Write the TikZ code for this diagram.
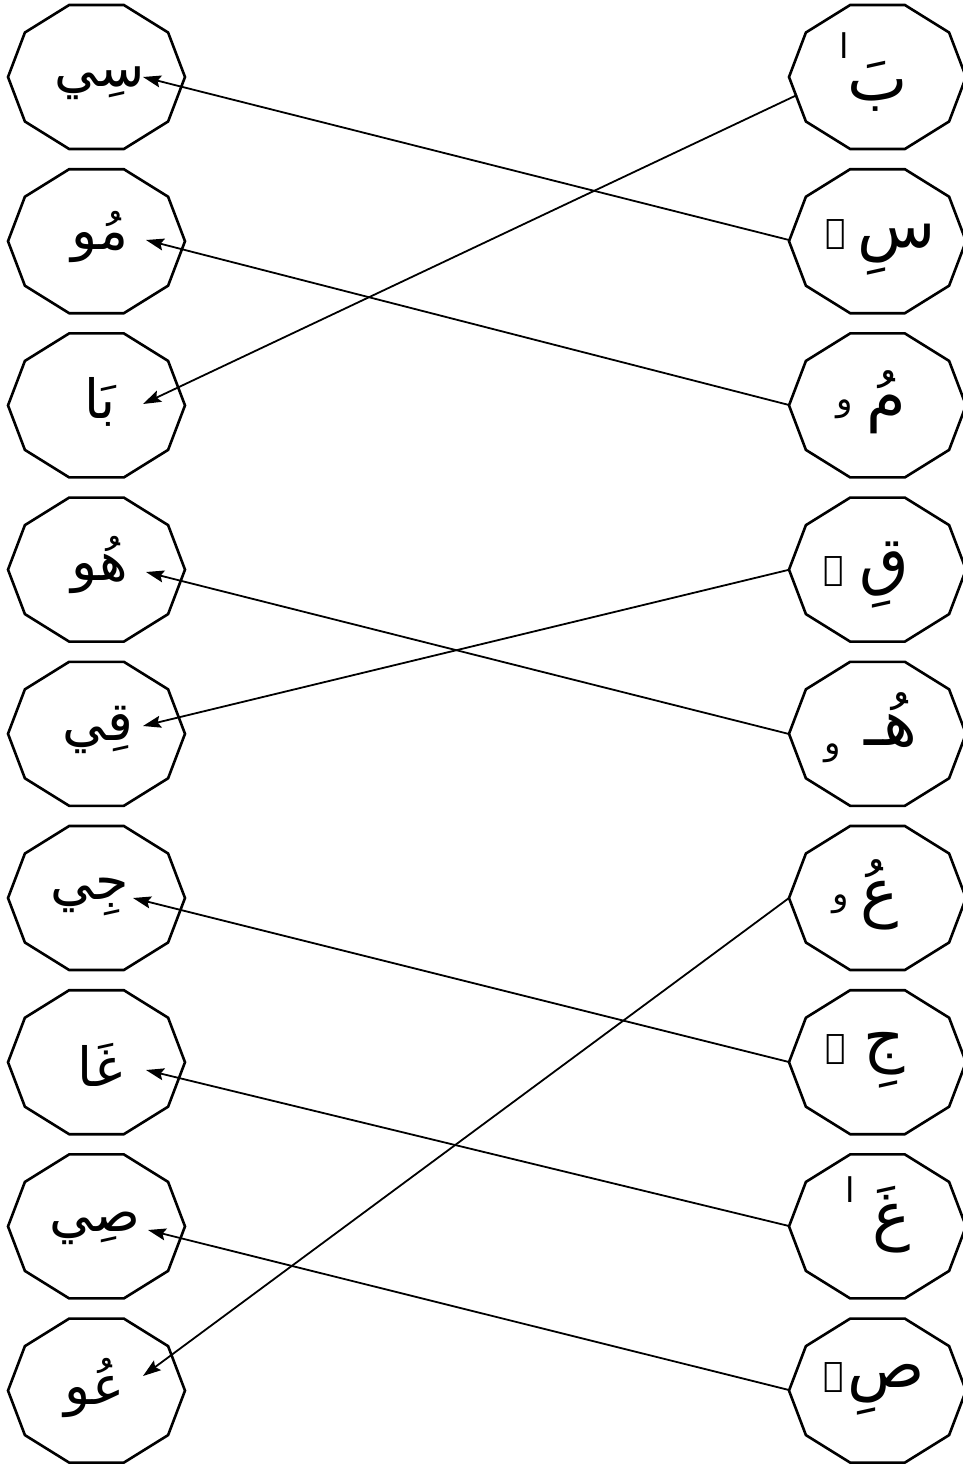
\documentclass[tikz,border=0pt]{standalone}
\usepackage{fontspec}
\newfontfamily\arabicfont[Script=Arabic]{DejaVu Sans}
\TeXXeTstate=1
\usetikzlibrary{arrows.meta}
\tikzset{
  deca/.style={draw, line width=2.6pt, line join=miter},
  arr/.style={line width=1.8pt, -{Stealth[length=18pt,width=12pt,inset=3pt]}},
  big/.style={font=\arabicfont\fontsize{54}{58}\selectfont, inner sep=0pt},
  letter/.style={font=\arabicfont\fontsize{64}{68}\selectfont, inner sep=0pt},
  small/.style={font=\arabicfont\fontsize{34}{36}\selectfont, inner sep=0pt},
}
\newcommand\decagon[3]{%
  \coordinate (#1) at (#2,#3);
  \draw[deca] (#1) +(0:88.5 and 75.7) -- +(36:88.5 and 75.7) -- +(72:88.5 and 75.7)
    -- +(108:88.5 and 75.7) -- +(144:88.5 and 75.7) -- +(180:88.5 and 75.7)
    -- +(216:88.5 and 75.7) -- +(252:88.5 and 75.7) -- +(288:88.5 and 75.7)
    -- +(324:88.5 and 75.7) -- cycle;
}
\begin{document}
\begin{tikzpicture}[x=1pt,y=-1pt]
\useasboundingbox (0,0) rectangle (963,1465);
% left column
\decagon{L1}{96.5}{77}
\decagon{L2}{96.5}{241.2}
\decagon{L3}{96.5}{405.4}
\decagon{L4}{96.5}{569.6}
\decagon{L5}{96.5}{733.8}
\decagon{L6}{96.5}{898}
\decagon{L7}{96.5}{1062.2}
\decagon{L8}{96.5}{1226.4}
\decagon{L9}{96.5}{1390.6}
% right column
\decagon{R1}{877.5}{77}
\decagon{R2}{877.5}{241.2}
\decagon{R3}{877.5}{405.4}
\decagon{R4}{877.5}{569.6}
\decagon{R5}{877.5}{733.8}
\decagon{R6}{877.5}{898}
\decagon{R7}{877.5}{1062.2}
\decagon{R8}{877.5}{1226.4}
\decagon{R9}{877.5}{1390.6}
% left words
\node[big] (tL1) at (100,83) {\beginR سِي\endR};
\node[big] (tL2) at (100,237) {\beginR مُو\endR};
\node[big] (tL3) at (100,402) {\beginR بَا\endR};
\node[big] (tL4) at (100,565) {\beginR هُو\endR};
\node[big] (tL5) at (98,730) {\beginR قِي\endR};
\node[big] (tL6) at (90,897) {\beginR جِي\endR};
\node[big] (tL7) at (100,1065) {\beginR غَا\endR};
\node[big] (tL8) at (95,1228) {\beginR صِي\endR};
\node[big] (tL9) at (95,1388) {\beginR عُو\endR};
% right letters
\node[letter] (tR1) at (878,86) {\beginR بَ\endR};
\node[small] (sR1) at (844,46) {\beginR ا\endR};
\node[letter] (tR2) at (897,250) {\beginR سِ\endR};
\node[small] (sR2) at (836,235) {\beginR ے\endR};
\node[letter] (tR3) at (886,402) {\beginR مُ\endR};
\node[small] (sR3) at (845,409) {\beginR و\endR};
\node[letter] (tR4) at (884,575) {\beginR قِ\endR};
\node[small] (sR4) at (834,572) {\beginR ے\endR};
\node[letter] (tR5) at (891,720) {\beginR هُـ\endR};
\node[small] (sR5) at (833,753) {\beginR و\endR};
\node[letter] (tR6) at (880,895) {\beginR عُ\endR};
\node[small] (sR6) at (841,904) {\beginR و\endR};
\node[letter] (tR7) at (884,1060) {\beginR جِ\endR};
\node[small] (sR7) at (836,1050) {\beginR ے\endR};
\node[letter] (tR8) at (892,1220) {\beginR غَ\endR};
\node[small] (sR8) at (850,1190) {\beginR ا\endR};
\node[letter] (tR9) at (886,1390) {\beginR صِ\endR};
\node[small] (sR9) at (834,1378) {\beginR ے\endR};
% arrow ends
\coordinate (a1s) at (797,95);   \coordinate (a1t) at (143,404);
\coordinate (a2s) at (789,240);  \coordinate (a2t) at (143,77);
\coordinate (a3s) at (789,405);  \coordinate (a3t) at (146,240);
\coordinate (a4s) at (788,570);  \coordinate (a4t) at (143,726);
\coordinate (a5s) at (789,734);  \coordinate (a5t) at (146,572);
\coordinate (a6s) at (789,898);  \coordinate (a6t) at (143,1376);
\coordinate (a7s) at (789,1062); \coordinate (a7t) at (133,898);
\coordinate (a8s) at (789,1226); \coordinate (a8t) at (146,1070);
\coordinate (a9s) at (789,1390); \coordinate (a9t) at (148,1230);
\draw[arr] (a1s) -- (a1t);
\draw[arr] (a2s) -- (a2t);
\draw[arr] (a3s) -- (a3t);
\draw[arr] (a4s) -- (a4t);
\draw[arr] (a5s) -- (a5t);
\draw[arr] (a6s) -- (a6t);
\draw[arr] (a7s) -- (a7t);
\draw[arr] (a8s) -- (a8t);
\draw[arr] (a9s) -- (a9t);
\end{tikzpicture}
\end{document}
